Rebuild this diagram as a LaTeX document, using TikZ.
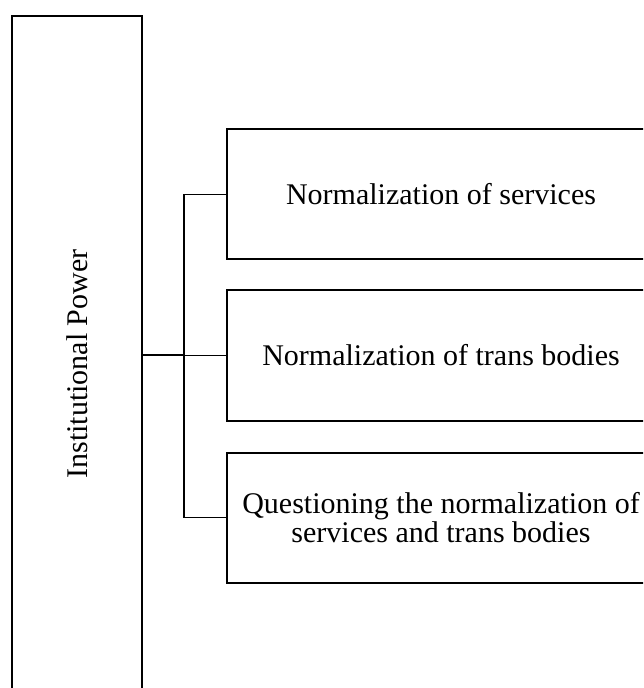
\documentclass[tikz,border=0pt]{standalone}
\usepackage{fontspec}
\setmainfont{Liberation Serif}
\usetikzlibrary{positioning}

\begin{document}
\begin{tikzpicture}[x=0.5pt, y=-0.5pt, every node/.style={font=\fontsize{15}{13.5}\selectfont},
  catbox/.style={draw=black, line width=1pt, inner sep=0pt, align=center, minimum width=214pt, minimum height=65pt},
  link/.style={draw=black, line width=0.6pt}]
\clip (0,0) rectangle (643,688);
% Main box
\node[draw=black, line width=1pt, inner sep=0pt, minimum width=65pt, minimum height=348pt] (power) at (77,364) {\rotatebox{90}{Institutional Power}};
% Categories
\node[catbox] (services) at (441,194.5) {Normalization of services};
\node[catbox] (bodies) at (441,355.5) {Normalization of trans bodies};
\node[catbox] (questioning) at (441,517.5) {Questioning the normalization of\\services and trans bodies};
% Connectors
\coordinate (hub) at (184,355.5);
\draw[link, line width=1pt] (power.east |- hub) -- (hub);
\foreach \b in {services, bodies, questioning} {
  \draw[link] (hub) |- (\b.west);
}
\end{tikzpicture}
\end{document}
